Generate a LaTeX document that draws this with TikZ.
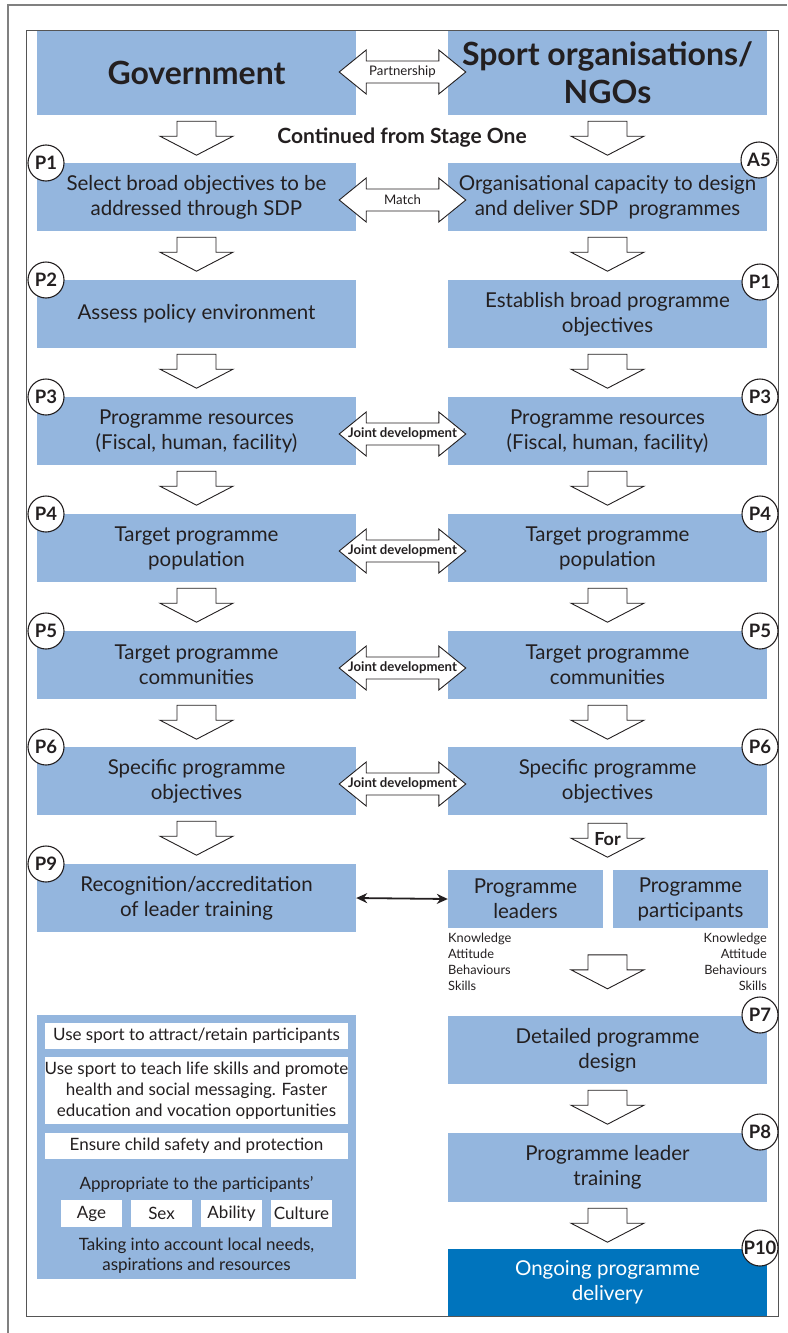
\documentclass[tikz,border=0pt]{standalone}
\usepackage{fontspec}
\setmainfont{Lato}
\usetikzlibrary{calc,arrows.meta}
\definecolor{boxblue}{RGB}{148,182,222}
\definecolor{deepblue}{RGB}{0,116,189}
\definecolor{ink}{HTML}{231F20}
\definecolor{framegrey}{HTML}{555555}
\definecolor{outergrey}{HTML}{808080}
\newcommand\fs[2]{\fontsize{#1}{#2}\selectfont}
% down block arrow, #1 = coordinate of the top centre
\newcommand\darrow[1]{\draw[barrow] ([shift={(-19.5,0)}]#1) -- ++(39,0) -- ++(0,15) -- ++(17,0) -- ++(-36.5,19) -- ++(-36.5,-19) -- ++(17,0) -- cycle;}
% double block arrow between two nodes: #1 left, #2 right, #3 y offset, #4 label style, #5 label, #6 name
\newcommand\dbl[6]{%
  \coordinate (#6l) at ([shift={(-17,#3)}]#1.east);
  \coordinate (#6r) at ([shift={(18,#3)}]#2.west);
  \draw[barrow] (#6l) -- ++(27,-22) -- ++(0,11) -- ([shift={(-27,-11)}]#6r) -- ++(0,-11) -- (#6r) -- ++(-27,22) -- ++(0,-11) -- ([shift={(27,11)}]#6l) -- ++(0,11) -- cycle;
  \node[#4] (#6) at ($(#6l)!0.5!(#6r)$) {#5};}
\begin{document}
\begin{tikzpicture}[x=1pt,y=-1pt,
  box/.style={fill=boxblue, minimum width=319, minimum height=68, inner sep=0, align=center, text=ink, font=\fs{20.5}{25}},
  tag/.style={circle, draw=ink, fill=white, line width=1.1, minimum size=36, inner sep=0, font=\bfseries\fs{18.5}{18}, text=ink},
  barrow/.style={draw=ink, fill=white, line width=0.9, line join=miter},
  wbox/.style={fill=white, minimum width=303, inner sep=0, align=center, text=ink, font=\fs{17}{21}},
  sbox/.style={fill=white, minimum width=61, minimum height=27, inner sep=0, text=ink, font=\fs{17}{18}},
  small/.style={font=\fs{12.8}{16}, text=ink, inner sep=0},
  lab/.style={font=\fs{13.2}{12}, text=ink, inner sep=0},
  labb/.style={font=\bfseries\fs{13.2}{12}, text=ink, inner sep=0},
]
\useasboundingbox (0,0) rectangle (787,1333);
\draw[outergrey, line width=1.2] (8,1333) -- (8,5) -- (787,5);

% headers
\node[box, minimum height=84, font=\bfseries\fs{32}{38}] (gov) at (196.5,73) {Government};
\node[box, minimum height=84, font=\bfseries\fs{32}{38}] (sport) at (607.5,73) {Sport organisations/\\NGOs};
\node[font=\bfseries\fs{21}{22}, text=ink] (cont) at (402,138) {Continued from Stage One};

% left column
\node[box] (l1) at (196.5,197) {Select broad objectives to be\\addressed through SDP};
\node[box, minimum height=68] (l2) at (196.5,314) {Assess policy environment};
\node[box] (l3) at (196.5,431) {Programme resources\\(Fiscal, human, facility)};
\node[box] (l4) at (196.5,548) {Target programme\\population};
\node[box] (l5) at (196.5,665) {Target programme\\communities};
\node[box] (l6) at (196.5,781) {Specific programme\\objectives};
\node[box] (l9) at (196.5,898) {Recognition/accreditation\\of leader training};

% right column
\node[box] (r1) at (607.5,197) {Organisational capacity to design\\and deliver SDP\ \ programmes};
\node[box] (r2) at (607.5,314) {Establish broad programme\\objectives};
\node[box] (r3) at (607.5,431) {Programme resources\\(Fiscal, human, facility)};
\node[box] (r4) at (607.5,548) {Target programme\\population};
\node[box] (r5) at (607.5,665) {Target programme\\communities};
\node[box] (r6) at (607.5,781) {Specific programme\\objectives};
\node[box, minimum width=155, minimum height=58] (lead) at (525.5,899) {Programme\\leaders};
\node[box, minimum width=155, minimum height=58] (part) at (690.5,899) {Programme\\participants};
\node[box] (r7) at (607.5,1050) {Detailed programme\\design};
\node[box, minimum height=69] (r8) at (607.5,1167.5) {Programme leader\\training};
\node[box, fill=deepblue, text=white, minimum height=67] (r10) at (607.5,1282.5) {Ongoing programme\\delivery};

\node[small, anchor=north west, align=left] (kl) at (448,933) {Knowledge\\Attitude\\Behaviours\\Skills};
\node[small, anchor=north east, align=right] (kr) at (767,933) {Knowledge\\Attitude\\Behaviours\\Skills};

% guidance box
\node[fill=boxblue, minimum width=319, minimum height=264, inner sep=0] (guide) at (196.5,1147) {};
\node[wbox, minimum height=26] (g1) at (196.5,1036) {Use sport to attract/retain participants};
\node[wbox, minimum height=67] (g2) at (196.5,1090.5) {Use sport to teach life skills and promote\\health and social messaging. Faster\\education and vocation opportunities};
\node[wbox, minimum height=26] (g3) at (196.5,1146) {Ensure child safety and protection};
\node[text=ink, font=\fs{17}{20}, inner sep=0] (g4) at (196.5,1184) {Appropriate to the participants’};
\node[sbox] (ga) at (91.5,1213.5) {Age};
\node[sbox] (gs) at (161.5,1213.5) {Sex};
\node[sbox] (gb) at (231.5,1213.5) {Ability};
\node[sbox] (gc) at (301.5,1213.5) {Culture};
\node[text=ink, font=\fs{17}{20}, align=center, inner sep=0] (g5) at (196.5,1256) {Taking into account local needs,\\aspirations and resources};

% inner frame
\draw[framegrey, line width=1] (26,30) rectangle (778,1316);

% down arrows, left
\foreach \a/\b in {gov/l1,l1/l2,l2/l3,l3/l4,l4/l5,l5/l6,l6/l9}{
  \coordinate (d\a) at ([shift={(0,6)}]\a.south);
  \darrow{d\a}
}
% down arrows, right
\foreach \a/\b in {sport/r1,r1/r2,r2/r3,r3/r4,r4/r5,r5/r6,r7/r8,r8/r10}{
  \coordinate (d\a) at ([shift={(0,6)}]\a.south);
  \darrow{d\a}
}
\coordinate (dr6) at ([shift={(0,8)}]r6.south);
\darrow{dr6}
\node[font=\bfseries\fs{18}{18}, text=ink, inner sep=0] (for) at ([shift={(0,16)}]dr6) {For};
\coordinate (dlead) at ([shift={(0,-61)}]r7.north);
\darrow{dlead}

% double arrows
\dbl{gov}{sport}{-1}{lab}{Partnership}{pa}
\dbl{l1}{r1}{3}{lab}{Match}{ma}
\dbl{l3}{r3}{3}{labb}{Joint development}{j3}
\dbl{l4}{r4}{3}{labb}{Joint development}{j4}
\dbl{l5}{r5}{3}{labb}{Joint development}{j5}
\dbl{l6}{r6}{3}{labb}{Joint development}{j6}

\draw[<->, >={Stealth[length=11,width=10]}, line width=1.8, draw=ink] (l9.east) -- (lead.west);

% tags
\node[tag] (t1) at (46,163) {P1};
\node[tag] (t2) at (46,280) {P2};
\node[tag] (t3) at (46,397) {P3};
\node[tag] (t4) at (46,514) {P4};
\node[tag] (t5) at (46,631) {P5};
\node[tag] (t6) at (46,747) {P6};
\node[tag] (t9) at (46,864) {P9};
\node[tag] (u5) at (759,160) {A5};
\node[tag] (u1) at (760,282) {P1};
\node[tag] (u3) at (760,397) {P3};
\node[tag] (u4) at (760,514) {P4};
\node[tag] (u6b) at (760,631) {P5};
\node[tag] (u6) at (760,747) {P6};
\node[tag] (u7) at (760,1015) {P7};
\node[tag] (u8) at (760,1132) {P8};
\node[tag] (u10) at (760,1248) {P10};
\end{tikzpicture}
\end{document}
